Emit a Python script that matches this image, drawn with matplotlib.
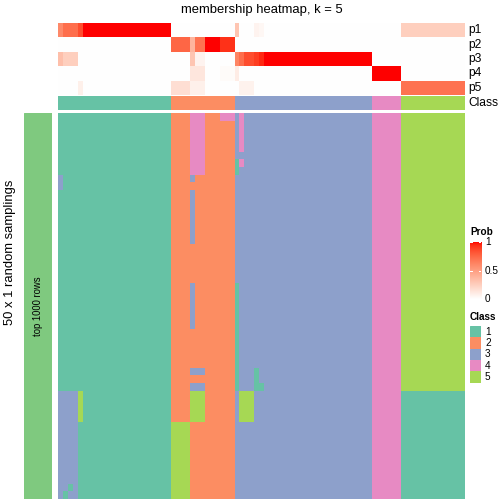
import numpy as np
import matplotlib
matplotlib.use("Agg")
import matplotlib.pyplot as plt
from matplotlib.colors import ListedColormap, BoundaryNorm
from matplotlib.patches import Rectangle

plt.rcParams["font.family"] = ["Liberation Sans", "DejaVu Sans"]

W, H = 504, 504

title = "membership heatmap, k = 5"
row_title = "50 x 1 random samplings"
row_group = "top 1000 rows"
prob_names = ["p1", "p2", "p3", "p4", "p5"]
class_names = ["1", "2", "3", "4", "5"]
class_colors = ["#66C2A5", "#FC8D62", "#8DA0CB", "#E78AC3", "#A6D854"]
prob_ticks = [0, 0.5, 1]

# consensus class for the 83 samples (spaces only for readability)
consensus = "1 111 1 111111111111111111 2222 2 22 222 222 3 3 33 3 3 3333333333333333333333 444444 5555555555555"

# membership probabilities per sample
p1 = [0.60, 0.72, 0.72, 0.72, 0.85,
      1, 1, 1, 1, 1, 1, 1, 1, 1, 1, 1, 1, 1, 1, 1, 1, 1, 1,
      0, 0, 0, 0, 0, 0, 0, 0, 0, 0, 0, 0, 0,
      0.30, 0, 0, 0, 0.06, 0.04,
      0, 0, 0, 0, 0, 0, 0, 0, 0, 0, 0, 0, 0, 0, 0, 0, 0, 0, 0, 0, 0, 0,
      0, 0, 0, 0, 0, 0,
      0.25, 0.25, 0.25, 0.25, 0.25, 0.25, 0.25, 0.25, 0.25, 0.25, 0.25, 0.25, 0.25]
p2 = [0, 0, 0, 0, 0,
      0, 0, 0, 0, 0, 0, 0, 0, 0, 0, 0, 0, 0, 0, 0, 0, 0, 0,
      0.75, 0.75, 0.75, 0.75, 0.38, 0.70, 0.70, 1, 1, 1, 0.93, 0.93, 0.93,
      0, 0, 0, 0, 0, 0,
      0, 0, 0, 0, 0, 0, 0, 0, 0, 0, 0, 0, 0, 0, 0, 0, 0, 0, 0, 0, 0, 0,
      0, 0, 0, 0, 0, 0,
      0, 0, 0, 0, 0, 0, 0, 0, 0, 0, 0, 0, 0]
p3 = [0.33, 0.25, 0.25, 0.25, 0,
      0, 0, 0, 0, 0, 0, 0, 0, 0, 0, 0, 0, 0, 0, 0, 0, 0, 0,
      0, 0, 0, 0, 0.30, 0.06, 0.06, 0, 0, 0, 0, 0, 0,
      0.62, 0.72, 0.85, 0.85, 0.90, 0.95,
      1, 1, 1, 1, 1, 1, 1, 1, 1, 1, 1, 1, 1, 1, 1, 1, 1, 1, 1, 1, 1, 1,
      0, 0, 0, 0, 0, 0,
      0, 0, 0, 0, 0, 0, 0, 0, 0, 0, 0, 0, 0]
p4 = [0, 0, 0, 0, 0,
      0, 0, 0, 0, 0, 0, 0, 0, 0, 0, 0, 0, 0, 0, 0, 0, 0, 0,
      0, 0, 0, 0, 0.13, 0.13, 0.13, 0, 0, 0, 0.02, 0.02, 0.02,
      0.10, 0, 0, 0, 0, 0,
      0, 0, 0, 0, 0, 0, 0, 0, 0, 0, 0, 0, 0, 0, 0, 0, 0, 0, 0, 0, 0, 0,
      1, 1, 1, 1, 1, 1,
      0, 0, 0, 0, 0, 0, 0, 0, 0, 0, 0, 0, 0]
p5 = [0, 0, 0, 0, 0.08,
      0, 0, 0, 0, 0, 0, 0, 0, 0, 0, 0, 0, 0, 0, 0, 0, 0, 0,
      0.17, 0.17, 0.17, 0.17, 0.08, 0.08, 0.08, 0, 0, 0, 0, 0, 0,
      0, 0.07, 0.07, 0.07, 0, 0,
      0, 0, 0, 0, 0, 0, 0, 0, 0, 0, 0, 0, 0, 0, 0, 0, 0, 0, 0, 0, 0, 0,
      0, 0, 0, 0, 0, 0,
      0.70, 0.70, 0.70, 0.70, 0.70, 0.70, 0.70, 0.70, 0.70, 0.70, 0.70, 0.70, 0.70]

# class assigned in each of the 50 samplings (one string per row)
samplings = [
    "1 111 1 111111111111111111 2222 4 44 222 444 3 4 33 3 3 3333333333333333333333 444444 5555555555555",
    "1 111 1 111111111111111111 2222 4 44 222 222 3 4 33 3 3 3333333333333333333333 444444 5555555555555",
    "1 111 1 111111111111111111 2222 4 44 222 222 3 4 33 3 3 3333333333333333333333 444444 5555555555555",
    "1 111 1 111111111111111111 2222 4 44 222 222 3 4 33 3 3 3333333333333333333333 444444 5555555555555",
    "1 111 1 111111111111111111 2222 4 44 222 222 3 4 33 3 3 3333333333333333333333 444444 5555555555555",
    "1 111 1 111111111111111111 2222 4 44 222 222 3 3 33 3 3 3333333333333333333333 444444 5555555555555",
    "1 111 1 111111111111111111 2222 4 44 222 222 1 4 33 3 3 3333333333333333333333 444444 5555555555555",
    "1 111 1 111111111111111111 2222 4 44 222 222 1 3 33 3 3 3333333333333333333333 444444 5555555555555",
    "3 111 1 111111111111111111 2222 3 22 222 222 3 3 33 3 3 3333333333333333333333 444444 5555555555555",
    "3 111 1 111111111111111111 2222 2 22 222 222 3 3 33 3 3 3333333333333333333333 444444 5555555555555",
    "1 111 1 111111111111111111 2222 3 22 222 222 3 3 33 3 3 3333333333333333333333 444444 5555555555555",
    "1 111 1 111111111111111111 2222 3 22 222 222 3 3 33 3 3 3333333333333333333333 444444 5555555555555",
    "1 111 1 111111111111111111 2222 3 22 222 222 3 3 33 3 3 3333333333333333333333 444444 5555555555555",
    "1 111 1 111111111111111111 2222 3 22 222 222 3 3 33 3 3 3333333333333333333333 444444 5555555555555",
    "1 111 1 111111111111111111 2222 3 22 222 222 3 3 33 3 3 3333333333333333333333 444444 5555555555555",
    "1 111 1 111111111111111111 2222 3 22 222 222 3 3 33 3 3 3333333333333333333333 444444 5555555555555",
    "1 111 1 111111111111111111 2222 3 22 222 222 3 3 33 3 3 3333333333333333333333 444444 5555555555555",
    "1 111 1 111111111111111111 2222 2 22 222 222 3 3 33 3 3 3333333333333333333333 444444 5555555555555",
    "1 111 1 111111111111111111 2222 2 22 222 222 3 3 33 3 3 3333333333333333333333 444444 5555555555555",
    "1 111 1 111111111111111111 2222 2 22 222 222 3 3 33 3 3 3333333333333333333333 444444 5555555555555",
    "1 111 1 111111111111111111 2222 2 22 222 222 3 3 33 3 3 3333333333333333333333 444444 5555555555555",
    "1 111 1 111111111111111111 2222 2 22 222 222 3 3 33 3 3 3333333333333333333333 444444 5555555555555",
    "1 111 1 111111111111111111 2222 3 22 222 222 1 3 33 3 3 3333333333333333333333 444444 5555555555555",
    "1 111 1 111111111111111111 2222 3 22 222 222 1 3 33 3 3 3333333333333333333333 444444 5555555555555",
    "1 111 1 111111111111111111 2222 3 22 222 222 1 3 33 3 3 3333333333333333333333 444444 5555555555555",
    "1 111 1 111111111111111111 2222 3 22 222 222 1 3 33 3 3 3333333333333333333333 444444 5555555555555",
    "1 111 1 111111111111111111 2222 3 22 222 222 1 3 33 3 3 3333333333333333333333 444444 5555555555555",
    "1 111 1 111111111111111111 2222 3 22 222 222 1 3 33 3 3 3333333333333333333333 444444 5555555555555",
    "1 111 1 111111111111111111 2222 2 22 222 222 1 3 33 3 3 3333333333333333333333 444444 5555555555555",
    "1 111 1 111111111111111111 2222 2 22 222 222 1 3 33 3 3 3333333333333333333333 444444 5555555555555",
    "1 111 1 111111111111111111 2222 2 22 222 222 1 3 33 3 3 3333333333333333333333 444444 5555555555555",
    "1 111 1 111111111111111111 2222 2 22 222 222 1 3 33 3 3 3333333333333333333333 444444 5555555555555",
    "1 111 1 111111111111111111 2222 2 22 222 222 1 3 33 3 3 3333333333333333333333 444444 5555555555555",
    "1 111 1 111111111111111111 2222 3 33 222 222 1 3 33 1 3 3333333333333333333333 444444 5555555555555",
    "1 111 1 111111111111111111 2222 2 22 222 222 1 3 33 1 3 3333333333333333333333 444444 5555555555555",
    "1 111 1 111111111111111111 2222 3 33 222 222 1 3 33 1 1 3333333333333333333333 444444 5555555555555",
    "3 333 5 111111111111111111 2222 5 55 222 222 3 5 55 3 3 3333333333333333333333 444444 1111111111111",
    "3 333 5 111111111111111111 2222 5 55 222 222 3 5 55 3 3 3333333333333333333333 444444 1111111111111",
    "3 333 5 111111111111111111 2222 5 55 222 222 3 5 55 3 3 3333333333333333333333 444444 1111111111111",
    "3 333 5 111111111111111111 2222 5 55 222 222 3 5 55 3 3 3333333333333333333333 444444 1111111111111",
    "3 333 1 111111111111111111 5555 2 22 222 222 3 3 33 3 3 3333333333333333333333 444444 1111111111111",
    "3 333 1 111111111111111111 5555 2 22 222 222 3 3 33 3 3 3333333333333333333333 444444 1111111111111",
    "3 333 1 111111111111111111 5555 2 22 222 222 3 3 33 3 3 3333333333333333333333 444444 1111111111111",
    "3 333 1 111111111111111111 5555 2 22 222 222 3 3 33 3 3 3333333333333333333333 444444 1111111111111",
    "3 333 1 111111111111111111 5555 2 22 222 222 3 3 33 3 3 3333333333333333333333 444444 1111111111111",
    "3 333 1 111111111111111111 5555 2 22 222 222 3 3 33 3 3 3333333333333333333333 444444 1111111111111",
    "3 333 1 111111111111111111 5555 2 22 222 222 3 3 33 3 3 3333333333333333333333 444444 1111111111111",
    "3 333 1 111111111111111111 5555 2 22 222 222 3 3 33 3 3 3333333333333333333333 444444 1111111111111",
    "3 313 1 111111111111111111 5555 2 22 222 222 3 3 33 3 3 3333333333333333333333 444444 1111111111111",
    "3 133 1 111111111111111111 5555 2 22 222 222 3 3 33 3 3 3333333333333333333333 444444 1111111111111",
]


def to_ints(s):
    return [int(c) for c in s.replace(" ", "")]


cls = np.array(to_ints(consensus))
mat = np.array([to_ints(r) for r in samplings])
probs = np.array([p1, p2, p3, p4, p5], dtype=float)
n = len(cls)
assert mat.shape == (50, n) and probs.shape == (5, n)


# white -> red interpolated in LAB space (like colorRamp2)
def lab_to_rgb(lab):
    L, a, b = lab[:, 0], lab[:, 1], lab[:, 2]
    fy = (L + 16) / 116
    fx = fy + a / 500
    fz = fy - b / 200
    d = 6 / 29
    finv = lambda t: np.where(t > d, t ** 3, 3 * d * d * (t - 4 / 29))
    xyz = np.stack([0.95047 * finv(fx), finv(fy), 1.08883 * finv(fz)], axis=1)
    m = np.array([[3.2406, -1.5372, -0.4986],
                  [-0.9689, 1.8758, 0.0415],
                  [0.0557, -0.2040, 1.0570]])
    lin = np.clip(xyz @ m.T, 0, 1)
    return np.where(lin <= 0.0031308, 12.92 * lin, 1.055 * lin ** (1 / 2.4) - 0.055).clip(0, 1)


t = np.linspace(0, 1, 256)[:, None]
lab = (1 - t) * np.array([100.0, 0, 0]) + t * np.array([53.24, 80.09, 67.20])
prob_cmap = ListedColormap(lab_to_rgb(lab))
class_cmap = ListedColormap(class_colors)
class_norm = BoundaryNorm(np.arange(0.5, 6.5), 5)

fig = plt.figure(figsize=(W / 72, H / 72), dpi=72)


def px_axes(x0, y0, x1, y1):
    ax = fig.add_axes([x0 / W, 1 - y1 / H, (x1 - x0) / W, (y1 - y0) / H])
    ax.set_axis_off()
    return ax


left, right = 58, 465
top_p, bot_p = 23.3, 95
top_c, bot_c = 96, 110
top_h, bot_h = 113.3, 498.7

ax = px_axes(left, top_p, right, bot_p)
ax.imshow(probs, cmap=prob_cmap, vmin=0, vmax=1, aspect="auto", interpolation="nearest")

ax = px_axes(left, top_c, right, bot_c)
ax.imshow(cls[None, :], cmap=class_cmap, norm=class_norm, aspect="auto", interpolation="nearest")

ax = px_axes(left, top_h, right, bot_h)
ax.imshow(mat, cmap=class_cmap, norm=class_norm, aspect="auto", interpolation="nearest")

ax = px_axes(24, top_h, 51.7, bot_h)
ax.add_patch(Rectangle((0, 0), 1, 1, color="#7FC97F"))
ax.set_xlim(0, 1)
ax.set_ylim(0, 1)
ax.text(0.5, 0.5, row_group, rotation=90, ha="center", va="center", fontsize=9.5)

# texts
fig.text(261.5 / W, 1 - 10 / H, title, ha="center", va="center", fontsize=13)
fig.text(10 / W, 1 - 252.5 / H, row_title, rotation=90, ha="center", va="center", fontsize=13)
row_h = (bot_p - top_p) / 5
for i, name in enumerate(prob_names):
    fig.text(468 / W, 1 - (top_p + row_h * (i + 0.5)) / H, name, ha="left", va="center", fontsize=12)
fig.text(468 / W, 1 - (top_c + bot_c) / 2 / H, "Class", ha="left", va="center", fontsize=12)

# Prob legend
fig.text(470 / W, 1 - 232 / H, "Prob", ha="left", va="center", fontsize=10, fontweight="bold")
cb_top, cb_bot = 242, 299
ax = px_axes(470, cb_top, 481.3, cb_bot)
ax.imshow(np.linspace(1, 0, 256)[:, None], cmap=prob_cmap, vmin=0, vmax=1, aspect="auto",
          extent=(0, 1, 0, 1))
ax.set_xlim(0, 1)
ax.set_ylim(0, 1)
for v in prob_ticks:
    ax.plot([0, 0.2], [v, v], color="white", lw=1)
    ax.plot([0.8, 1], [v, v], color="white", lw=1)
    fig.text(485 / W, 1 - (cb_bot - v * (cb_bot - cb_top)) / H, f"{v:g}", ha="left", va="center", fontsize=10)

# Class legend
fig.text(470 / W, 1 - 317 / H, "Class", ha="left", va="center", fontsize=10, fontweight="bold")
box = 11.34
for i, (name, col) in enumerate(zip(class_names, class_colors)):
    y0 = 326 + i * box
    ax = px_axes(470, y0, 470 + box, y0 + box)
    ax.add_patch(Rectangle((0, 0), 1, 1, color=col))
    ax.set_xlim(0, 1)
    ax.set_ylim(0, 1)
    fig.text(485 / W, 1 - (y0 + box / 2) / H, name, ha="left", va="center", fontsize=10)

fig.savefig("out.png", dpi=72)
